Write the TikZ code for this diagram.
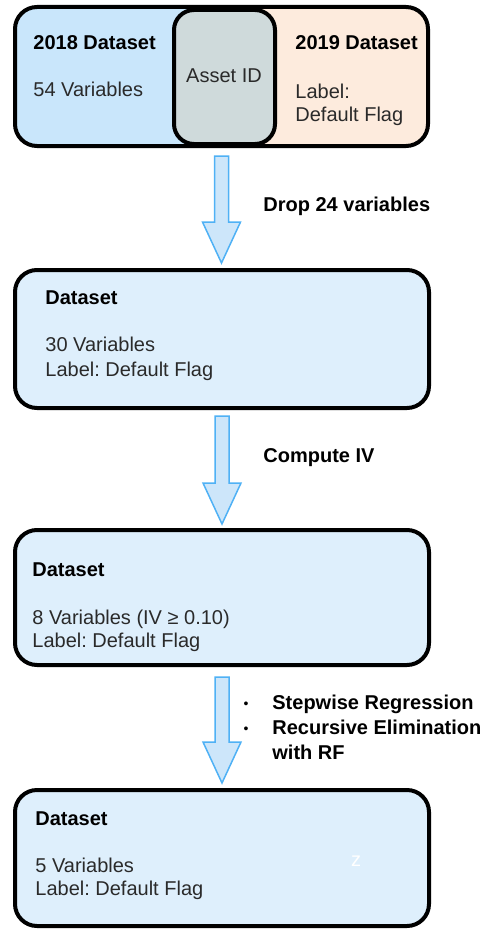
\documentclass[tikz,border=0pt]{standalone}
\usepackage{fontspec}
\setmainfont{Liberation Sans}
\usetikzlibrary{calc}
\definecolor{c18}{HTML}{C9E6FB}
\definecolor{c19}{HTML}{FDEBDD}
\definecolor{cmid}{HTML}{CFDADB}
\definecolor{cbox}{HTML}{DEEFFC}
\definecolor{arrfill}{HTML}{CDE6FA}
\definecolor{arrline}{HTML}{4FB1F5}
\definecolor{txt}{HTML}{2A2A2A}
\newcommand\flowarrow[4]{%
  \draw[blockarrow] let \p1=($(#1.south)+(0,#3)$), \p2=($(#2.north)+(0,-#4)$) in
    (\x1-3.5pt,\y1) -- (\x1+3.5pt,\y1) -- (\x1+3.5pt,\y2+20.5pt) -- (\x1+9.5pt,\y2+20.5pt)
    -- (\x1,\y2) -- (\x1-9.5pt,\y2+20.5pt) -- (\x1-3.5pt,\y2+20.5pt) -- cycle;}
\begin{document}
\frenchspacing
\begin{tikzpicture}[x=0.5pt,y=-0.5pt,font=\fontsize{10}{12}\selectfont,
  box/.style={draw=black,line width=2pt,rounded corners=11pt,minimum width=207pt,inner sep=0pt},
  lbl/.style={anchor=base west,inner sep=0pt,text=txt},
  hdr/.style={anchor=base west,inner sep=0pt,font=\fontsize{10}{12}\selectfont\bfseries,text=black},
  dotmark/.style={anchor=center,inner sep=0pt,font=\fontsize{7}{8}\selectfont,text=black},
  blockarrow/.style={draw=arrline,fill=arrfill,line width=0.75pt,line join=miter}]
\useasboundingbox (0,0) rectangle (480,931);
% top combined box
\node[box,fill=c19,minimum width=206.5pt,minimum height=69.5pt,
  path picture={\fill[c18] (path picture bounding box.south west) rectangle (path picture bounding box.north);}]
  (b1) at (221.5,76.5) {};
\node[box,fill=cmid,minimum width=50.5pt,minimum height=67pt,rounded corners=10pt] (mid) at (224.5,77) {};
% other boxes
\node[box,fill=cbox,minimum height=69pt] (b2) at (222,339) {};
\node[box,fill=cbox,minimum height=67.5pt] (b3) at (222,597.5) {};
\node[box,fill=cbox,minimum height=68pt] (b4) at (222,858) {};
% arrows
\flowarrow{b1}{b2}{8}{5}
\flowarrow{b2}{b3}{6}{4}
\flowarrow{b3}{b4}{10}{5}
% texts top box
\node[hdr] (t18) at (33,50) {2018 Dataset};
\node[lbl] (v54) at (33,97) {54 Variables};
\node[lbl,anchor=base] (aid) at (224,83) {Asset ID};
\node[hdr] (t19) at (295,50) {2019 Dataset};
\node[lbl] (l19a) at (295,98) {Label:};
\node[lbl] (l19b) at (295,121) {Default Flag};
% arrow labels
\node[hdr] (drop) at (263,211) {Drop 24 variables};
\node[hdr] (civ) at (263,462) {Compute IV};
\node[dotmark] (bu1) at (246,705) {•};
\node[hdr] (sr) at (272,709) {Stepwise Regression};
\node[dotmark] (bu2) at (246,730) {•};
\node[hdr] (re) at (272,734) {Recursive Elimination};
\node[hdr] (rf) at (272,759) {with RF};
% box 2
\node[hdr] (d2) at (45,304) {Dataset};
\node[lbl] (v30) at (45,351) {30 Variables};
\node[lbl] (lb2) at (45,376) {Label: Default Flag};
% box 3
\node[hdr] (d3) at (32,576) {Dataset};
\node[lbl] (v8) at (32,624) {8 Variables (IV ≥ 0.10)};
\node[lbl] (lb3) at (32,647) {Label: Default Flag};
% box 4
\node[hdr] (d4) at (35,825) {Dataset};
\node[lbl] (v5) at (35,872) {5 Variables};
\node[lbl] (lb4) at (35,895) {Label: Default Flag};
\node[lbl,anchor=base,text=white] (zz) at (356,866) {z};
\end{tikzpicture}
\end{document}
